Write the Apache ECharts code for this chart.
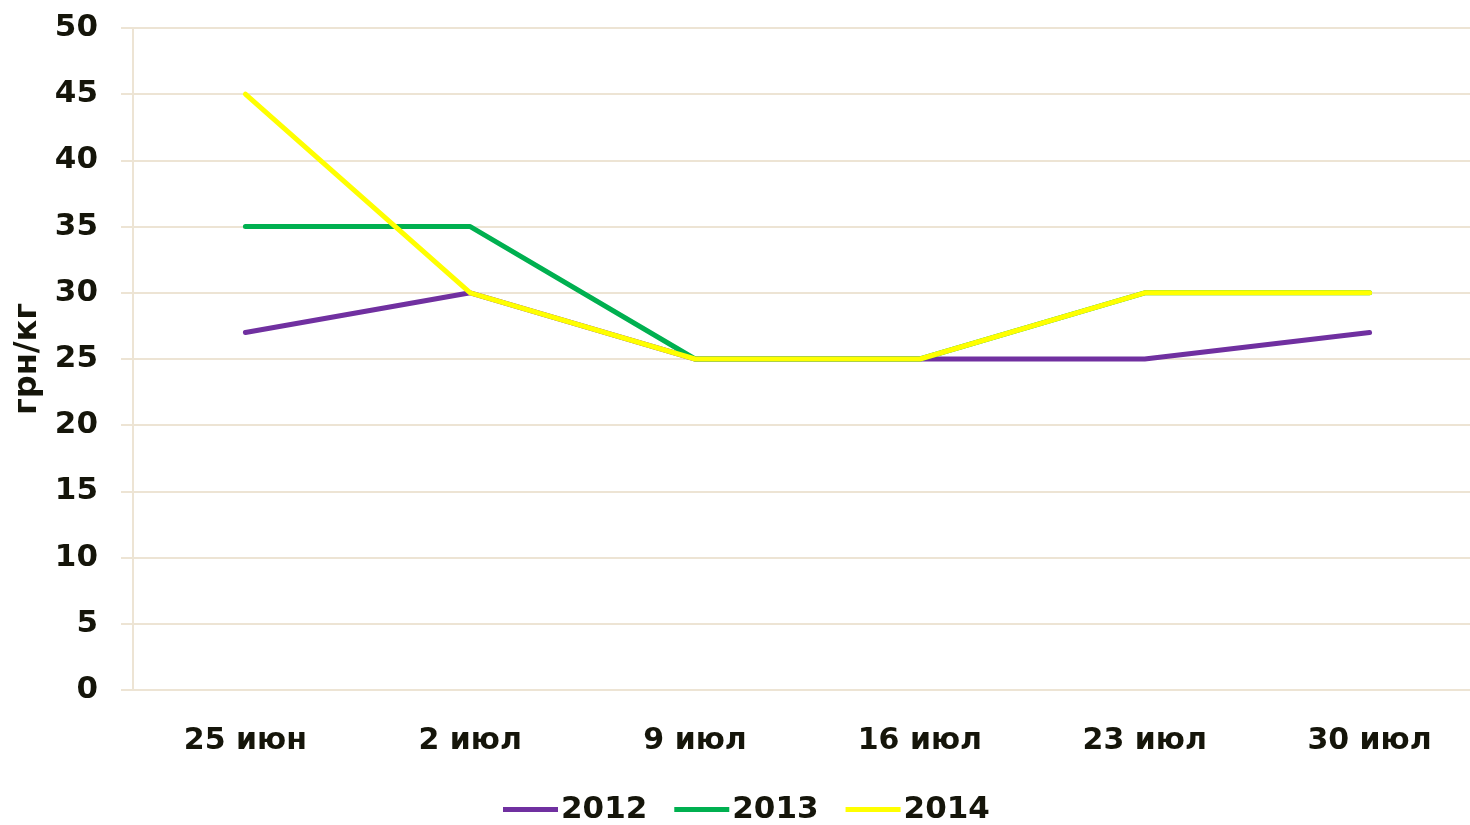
<!DOCTYPE html>
<html>
<head>
<meta charset="utf-8">
<script src="https://cdn.jsdelivr.net/npm/echarts@6/dist/echarts.min.js"></script>
<style>
  html, body { margin: 0; padding: 0; background: #fff; }
  #chart { width: 1470px; height: 825px; }
</style>
</head>
<body>
<div id="chart"></div>
<script>
// данные
const categories = ["25 июн", "2 июл", "9 июл", "16 июл", "23 июл", "30 июл"];
const yTicks = [0, 5, 10, 15, 20, 25, 30, 35, 40, 45, 50];
const s2012 = [27, 30, 25, 25, 25, 27];
const s2013 = [35, 35, 25, 25, 30, 30];
const s2014 = [45, 30, 25, 25, 30, 30];

const gridColor = "#EDE4D4";
const textColor = "#15150a";
const font = "'DejaVu Sans', sans-serif";

const chart = echarts.init(document.getElementById("chart"));

function line(name, data, color) {
  return {
    name: name,
    type: "line",
    data: data,
    symbol: "none",
    color: color,
    lineStyle: { width: 5, color: color, cap: "round" },
  };
}

chart.setOption({
  animation: false,
  grid: { left: 133, right: -12, top: 28, bottom: 135, outerBoundsMode: "none", containLabel: false },
  legend: {
    bottom: 0,
    left: 503,
    padding: 0,
    icon: "rect",
    itemWidth: 55,
    itemHeight: 5,
    itemGap: 27,
    textStyle: { fontFamily: font, fontWeight: "bold", fontSize: 31, color: textColor, padding: [0, 0, 0, -2] },
    data: ["2012", "2013", "2014"],
  },
  xAxis: {
    type: "category",
    data: categories,
    boundaryGap: true,
    axisLine: { lineStyle: { color: gridColor, width: 2 } },
    axisTick: { length: 12, lineStyle: { color: gridColor, width: 2 } },
    axisLabel: { fontFamily: font, fontWeight: "bold", fontSize: 30, color: textColor, margin: 36 },
  },
  yAxis: {
    type: "value",
    min: yTicks[0],
    max: yTicks[yTicks.length - 1],
    interval: 5,
    name: "грн/кг",
    nameLocation: "middle",
    nameRotate: 90,
    nameGap: 86,
    nameTextStyle: { fontFamily: font, fontWeight: "bold", fontSize: 32, color: textColor },
    axisLine: { show: true, lineStyle: { color: gridColor, width: 2 } },
    axisTick: { show: true, length: 12, lineStyle: { color: gridColor, width: 2 } },
    splitLine: { lineStyle: { color: gridColor, width: 2 } },
    axisLabel: { fontFamily: font, fontWeight: "bold", fontSize: 31, color: textColor, margin: 35 },
  },
  series: [
    line("2012", s2012, "#7030A0"),
    line("2013", s2013, "#00B050"),
    line("2014", s2014, "#FFFF00"),
  ],
});
</script>
</body>
</html>
